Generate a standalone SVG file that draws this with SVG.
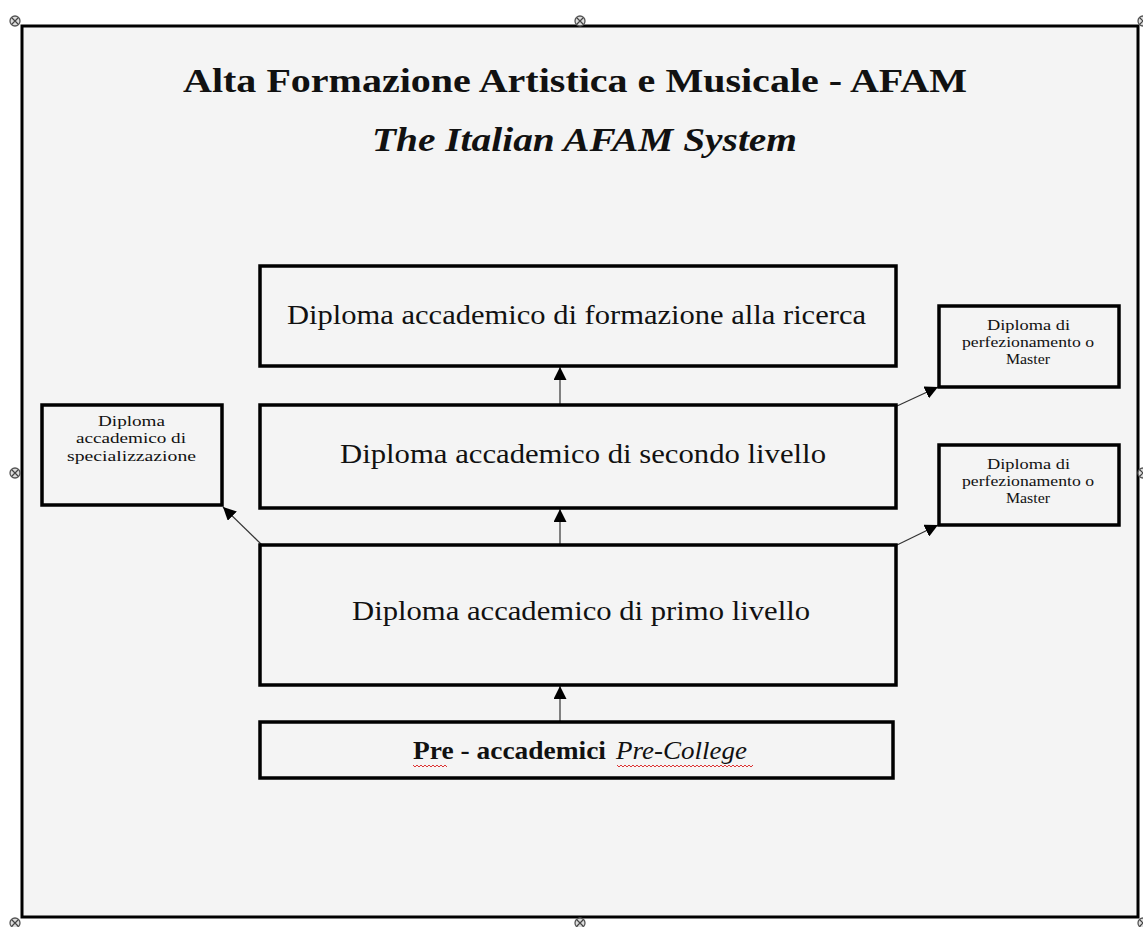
<svg xmlns="http://www.w3.org/2000/svg" width="1143" height="927" viewBox="0 0 1143 927">
<defs>
<style>
.box{fill:none;stroke:#000;stroke-width:3.5}
.serif{font-family:"Liberation Serif","Times New Roman",serif;fill:#111}
.big{font-size:28px}
.small{font-size:15px}
.conn{stroke:#333;stroke-width:1.2;fill:none}
.handle{fill:#ddd;stroke:#555;stroke-width:1.3}
.squig{fill:none;stroke:#d33;stroke-width:1}
</style>
<marker id="ah" viewBox="0 0 10 10" refX="10" refY="5" markerWidth="13" markerHeight="13" markerUnits="userSpaceOnUse" orient="auto">
<path d="M0,0 L10,5 L0,10 Z" fill="#000"/>
</marker>
<g id="hd"><circle r="5" class="handle"/><path d="M-3,-3 L3,3 M3,-3 L-3,3" stroke="#444" stroke-width="1.2"/></g>
</defs>
<rect x="0" y="0" width="1143" height="927" fill="#fff"/>
<g id="frame">
<rect x="22" y="26" width="1116" height="891" fill="#f4f4f4" stroke="#000" stroke-width="3"/>
</g>
<g id="handles">
<use href="#hd" x="15" y="21"/>
<use href="#hd" x="580" y="21"/>
<use href="#hd" x="1143" y="21"/>
<use href="#hd" x="15" y="473"/>
<use href="#hd" x="1143" y="473"/>
<use href="#hd" x="15" y="923"/>
<use href="#hd" x="580" y="923"/>
<use href="#hd" x="1143" y="923"/>
</g>
<g id="title">
<text x="183" y="92" class="serif" font-size="33" font-weight="bold" textLength="784" lengthAdjust="spacingAndGlyphs">Alta Formazione Artistica e Musicale - AFAM</text>
<text x="372" y="151" class="serif" font-size="34" font-weight="bold" font-style="italic" textLength="425" lengthAdjust="spacingAndGlyphs">The Italian AFAM System</text>
</g>
<g id="connectors">
<line class="conn" x1="560" y1="405" x2="560" y2="367" marker-end="url(#ah)"/>
<line class="conn" x1="560" y1="545" x2="560" y2="509" marker-end="url(#ah)"/>
<line class="conn" x1="560" y1="721" x2="560" y2="686" marker-end="url(#ah)"/>
<line class="conn" x1="262" y1="545" x2="223" y2="507" marker-end="url(#ah)"/>
<line class="conn" x1="897" y1="406" x2="938" y2="387" marker-end="url(#ah)"/>
<line class="conn" x1="897" y1="545" x2="938" y2="525" marker-end="url(#ah)"/>
</g>
<g id="n-ricerca">
<rect class="box" x="260" y="266" width="636" height="100"/>
<text x="287" y="324" class="serif big" textLength="579" lengthAdjust="spacingAndGlyphs">Diploma accademico di formazione alla ricerca</text>
</g>
<g id="n-secondo">
<rect class="box" x="260" y="405" width="636" height="103"/>
<text x="340" y="463" class="serif big" textLength="486" lengthAdjust="spacingAndGlyphs">Diploma accademico di secondo livello</text>
</g>
<g id="n-primo">
<rect class="box" x="260" y="545" width="636" height="140"/>
<text x="352" y="620" class="serif big" textLength="458" lengthAdjust="spacingAndGlyphs">Diploma accademico di primo livello</text>
</g>
<g id="n-pre">
<rect class="box" x="260" y="722" width="633" height="56"/>
<text x="413" y="759" class="serif" font-size="25" font-weight="bold" textLength="193" lengthAdjust="spacingAndGlyphs">Pre - accademici</text>
<text x="616" y="759" class="serif" font-size="25" font-style="italic" textLength="131" lengthAdjust="spacingAndGlyphs">Pre-College</text>
<path class="squig" d="M413,765 l2,2 l2,-2 l2,2 l2,-2 l2,2 l2,-2 l2,2 l2,-2 l2,2 l2,-2 l2,2 l2,-2 l2,2 l2,-2 l2,2 l2,-2 l2,2"/>
<path class="squig" d="M617,765 l2,2 l2,-2 l2,2 l2,-2 l2,2 l2,-2 l2,2 l2,-2 l2,2 l2,-2 l2,2 l2,-2 l2,2 l2,-2 l2,2 l2,-2 l2,2 l2,-2 l2,2 l2,-2 l2,2 l2,-2 l2,2 l2,-2 l2,2 l2,-2 l2,2 l2,-2 l2,2 l2,-2 l2,2 l2,-2 l2,2 l2,-2 l2,2 l2,-2 l2,2 l2,-2 l2,2 l2,-2 l2,2 l2,-2 l2,2 l2,-2 l2,2 l2,-2 l2,2 l2,-2 l2,2 l2,-2 l2,2 l2,-2 l2,2 l2,-2 l2,2 l2,-2 l2,2 l2,-2 l2,2 l2,-2 l2,2 l2,-2 l2,2 l2,-2 l2,2 l2,-2 l2,2 l2,-2"/>
</g>
<g id="n-specializzazione">
<rect class="box" x="42" y="405" width="180" height="100"/>
<text x="98" y="426" class="serif small" textLength="67" lengthAdjust="spacingAndGlyphs">Diploma</text>
<text x="76" y="443" class="serif small" textLength="110" lengthAdjust="spacingAndGlyphs">accademico di</text>
<text x="67" y="461" class="serif small" textLength="129" lengthAdjust="spacingAndGlyphs">specializzazione</text>
</g>
<g id="n-master-1">
<rect class="box" x="939" y="306" width="180" height="81"/>
<text x="987" y="330" class="serif small" textLength="83" lengthAdjust="spacingAndGlyphs">Diploma di</text>
<text x="962" y="347" class="serif small" textLength="132" lengthAdjust="spacingAndGlyphs">perfezionamento o</text>
<text x="1006" y="364" class="serif small" textLength="44" lengthAdjust="spacingAndGlyphs">Master</text>
</g>
<g id="n-master-2">
<rect class="box" x="939" y="445" width="180" height="80"/>
<text x="987" y="469" class="serif small" textLength="83" lengthAdjust="spacingAndGlyphs">Diploma di</text>
<text x="962" y="486" class="serif small" textLength="132" lengthAdjust="spacingAndGlyphs">perfezionamento o</text>
<text x="1006" y="503" class="serif small" textLength="44" lengthAdjust="spacingAndGlyphs">Master</text>
</g>
</svg>
